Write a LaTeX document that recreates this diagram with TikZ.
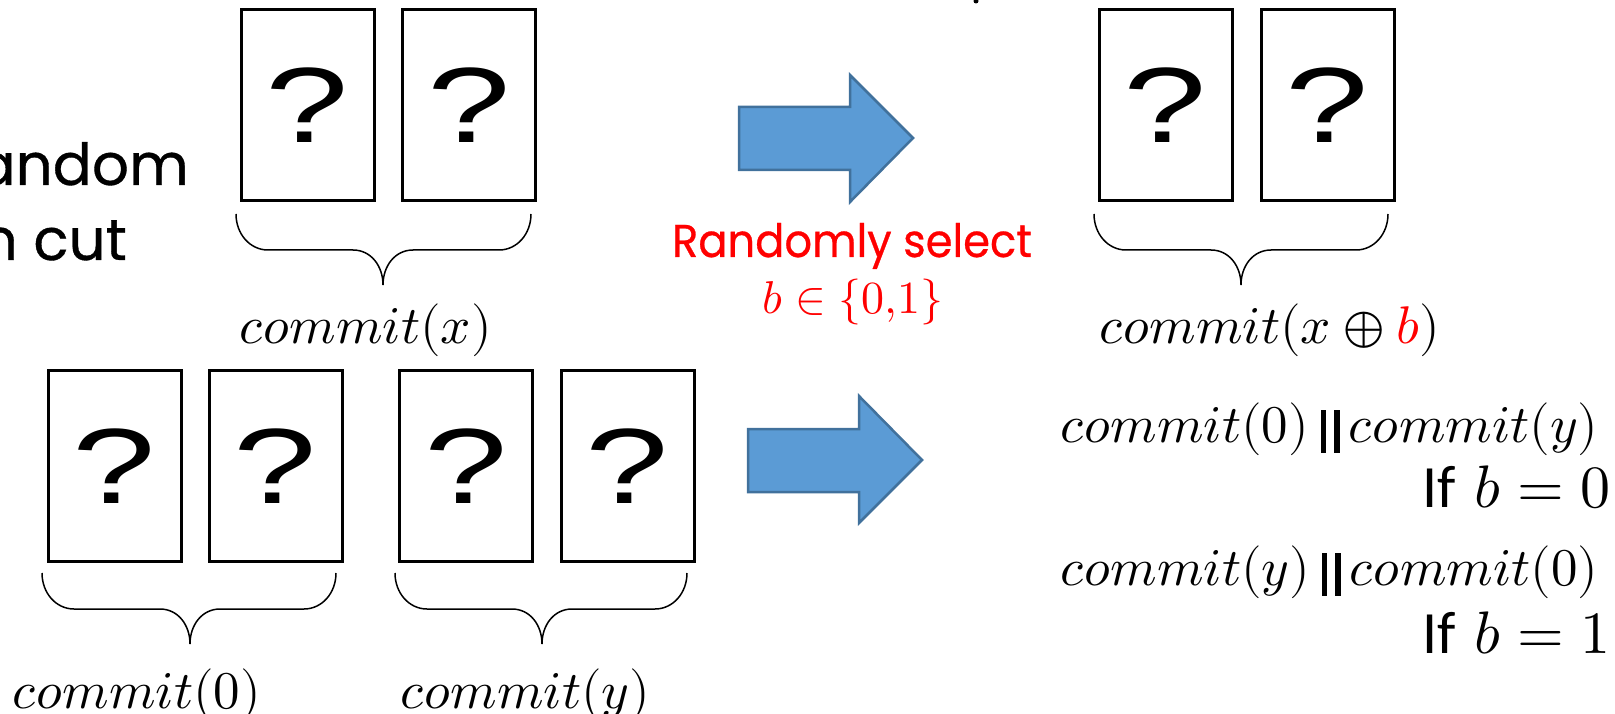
\documentclass[tikz,border=0pt]{standalone}
\usepackage{fontspec}
\usepackage{unicode-math}
\setmathfont{Latin Modern Math}
\usepackage{graphicx}
\newfontfamily\qfont{Liberation Sans}
\newfontfamily\comicfont[FakeBold=0.6]{Poppins}
\newfontfamily\califont{Carlito}
\definecolor{arrowfill}{HTML}{5B9BD5}
\definecolor{arrowedge}{HTML}{41719C}
\newcommand\qmark{{\qfont\fontsize{107}{107}\selectfont\scalebox{1.4}[1]{?}}}
\newcommand\vbars{\mkern4mu\rule[-11pt]{5.5pt}{43pt}\hspace{8pt}\rule[-11pt]{5.5pt}{43pt}\mkern3mu}
\newcommand\ubrace[4]{% left, right, tip x, top y
  \draw[bracestyle] (#1,#4) .. controls (#1,{#4+20}) and ({#1+14},{#4+36}) .. ({#1+32},{#4+36})
    -- ({#3-30},{#4+36}) .. controls ({#3-12},{#4+36}) and (#3,{#4+52}) .. (#3,{#4+71})
    .. controls (#3,{#4+52}) and ({#3+12},{#4+36}) .. ({#3+30},{#4+36})
    -- ({#2-32},{#4+36}) .. controls ({#2-14},{#4+36}) and (#2,{#4+20}) .. (#2,#4);}
\tikzset{
  card/.style={draw=black, line width=3pt, minimum width=133pt, minimum height=191pt, inner sep=0pt},
  bracestyle/.style={draw=black, line width=1.5pt},
  bigarrow/.style={fill=arrowfill, draw=arrowedge, line width=2.5pt, line join=miter},
  mtext/.style={inner sep=0pt, font=\fontsize{53}{60}\selectfont},
  comic/.style={inner sep=0pt, font=\comicfont\fontsize{58}{66}\selectfont},
  redcomic/.style={inner sep=0pt, text=red, font=\comicfont\fontsize{46}{56}\selectfont},
  iftext/.style={inner sep=0pt, anchor=base east, font=\fontsize{60}{66}\selectfont},
}
\begin{document}
\begin{tikzpicture}[x=1pt, y=-1pt]
\useasboundingbox (0,0) rectangle (1615,714);
% left partial text
\node[comic, anchor=base east] (t1) at (189,185) {random};
\node[comic, anchor=base east] (t2) at (127,260) {n cut};
% top cards
\node[card] (c1) at (307.5,105.5) {\qmark};
\node[card] (c2) at (469,105.5) {\qmark};
\node[card] (c3) at (1165.5,105.5) {\qmark};
\node[card] (c4) at (1327.5,105.5) {\qmark};
% bottom cards
\node[card] (c5) at (114.5,466) {\qmark};
\node[card] (c6) at (275.5,466) {\qmark};
\node[card] (c7) at (466,466) {\qmark};
\node[card] (c8) at (627.5,466) {\qmark};
% braces
\ubrace{236}{531}{383}{214}
\ubrace{1094}{1388}{1241}{214}
\ubrace{42}{336}{190}{573}
\ubrace{395}{687}{542}{573}
% arrows
\draw[bigarrow] (739,107) -- (850,107) -- (850,75) -- (913,138) -- (850,202) -- (850,170) -- (739,170) -- cycle;
\draw[bigarrow] (748,429) -- (859,429) -- (859,396) -- (922,460) -- (859,523) -- (859,492) -- (748,492) -- cycle;
% labels
\node[mtext, anchor=base west] (lx) at (239,343) {$commit(x)$};
\node[mtext, anchor=base west] (lxb) at (1099,343) {$commit(x\oplus{\color{red}b})$};
\node[redcomic, anchor=base] (rs) at (852,257) {\scalebox{0.94}[1]{Randomly select}};
\node[inner sep=0pt, anchor=base, text=red, font=\fontsize{46}{50}\selectfont] (rb) at (853,313) {$b\in\{0{,}1\}$};
\node[mtext, anchor=base west] (l0) at (12,708) {$commit(0)$};
\node[mtext, anchor=base west] (ly) at (400,708) {$commit(y)$};
\node[mtext, anchor=base west] (r1) at (1060,442) {$commit(0)\vbars commit(y)$};
\node[iftext] (r2) at (1611,507) {{\califont If} $b=0$};
\node[mtext, anchor=base west] (r3) at (1060,585) {$commit(y)\vbars commit(0)$};
\node[iftext] (r4) at (1611,653) {{\califont If} $b=1$};
% small mark at top edge
\fill[black] (976,1) circle (2.5pt);
\end{tikzpicture}
\end{document}
